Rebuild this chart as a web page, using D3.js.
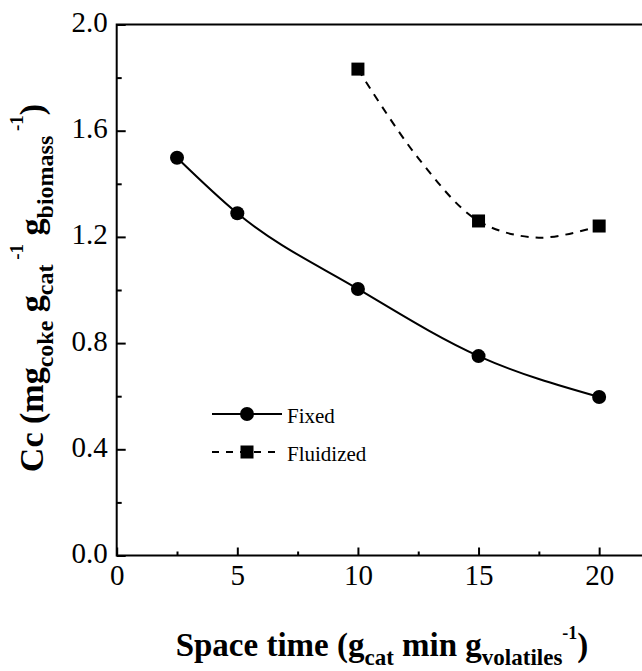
<!DOCTYPE html>
<html>
<head>
<meta charset="utf-8">
<title>Coke content vs space time</title>
<script src="https://d3js.org/d3.v7.min.js"></script>
<style>
  body { margin: 0; background: #fff; }
  svg { display: block; }
</style>
</head>
<body>
<svg width="642" height="671"></svg>
<script>
// data
var fixedX = [2.5, 5, 10, 15, 20];
var fixedY = [1.498, 1.289, 1.004, 0.751, 0.597];
var fluidX = [10, 15, 20];
var fluidY = [1.832, 1.26, 1.241];
// dashed fit curve for the fluidized bed
var fluidFitX = [10, 12.5, 15, 17.5, 20];
var fluidFitY = [1.832, 1.497, 1.26, 1.197, 1.241];
var xTicks = [0, 5, 10, 15, 20];
var xMinor = [2.5, 7.5, 12.5, 17.5];
var yTicks = [0, 0.4, 0.8, 1.2, 1.6, 2.0];
var yMinor = [0.2, 0.6, 1.0, 1.4, 1.8];

var serif = "'Liberation Serif', 'DejaVu Serif', serif";
var svg = d3.select("svg");

var x = d3.scaleLinear().domain([0, 22]).range([116.7, 647.4]);
var y = d3.scaleLinear().domain([0, 2]).range([555.5, 24.5]);

// frame (right side falls outside the picture)
svg.append("rect")
   .attr("x", x(0)).attr("y", y(2))
   .attr("width", x(22) - x(0)).attr("height", y(0) - y(2))
   .attr("fill", "none").attr("stroke", "#000").attr("stroke-width", 2);

function styleAxis(g) {
  g.select(".domain").remove();
  g.selectAll("line").attr("stroke", "#000").attr("stroke-width", 2);
  g.selectAll("text").attr("fill", "#000")
   .style("font-family", serif).style("font-size", "29px");
}

var gx = svg.append("g")
   .attr("transform", "translate(0," + y(0) + ")")
   .call(d3.axisBottom(x).tickValues(xTicks).tickSizeInner(-8).tickSizeOuter(0).tickPadding(9));
styleAxis(gx);
gx.selectAll("text").attr("dy", "0.72em");

var gxm = svg.append("g")
   .attr("transform", "translate(0," + y(0) + ")")
   .call(d3.axisBottom(x).tickValues(xMinor).tickSizeInner(-4).tickSizeOuter(0).tickFormat(""));
styleAxis(gxm);

var gy = svg.append("g")
   .attr("transform", "translate(" + x(0) + ",0)")
   .call(d3.axisLeft(y).tickValues(yTicks).tickSizeInner(-9).tickSizeOuter(0).tickPadding(9)
         .tickFormat(d3.format(".1f")));
styleAxis(gy);
gy.selectAll("text").attr("dy", "0.24em");

var gym = svg.append("g")
   .attr("transform", "translate(" + x(0) + ",0)")
   .call(d3.axisLeft(y).tickValues(yMinor).tickSizeInner(-5).tickSizeOuter(0).tickFormat(""));
styleAxis(gym);

// lines
var fixedPts = fixedX.map(function(d, i) { return [d, fixedY[i]]; });
var fluidPts = fluidX.map(function(d, i) { return [d, fluidY[i]]; });
var fluidFit = fluidFitX.map(function(d, i) { return [d, fluidFitY[i]]; });

var line = d3.line()
   .x(function(d) { return x(d[0]); })
   .y(function(d) { return y(d[1]); })
   .curve(d3.curveMonotoneX);

var fitLine = d3.line()
   .x(function(d) { return x(d[0]); })
   .y(function(d) { return y(d[1]); })
   .curve(d3.curveCatmullRom);

svg.append("path").datum(fixedPts)
   .attr("d", line).attr("fill", "none").attr("stroke", "#000").attr("stroke-width", 2);

svg.append("path").datum(fluidFit)
   .attr("d", fitLine).attr("fill", "none").attr("stroke", "#000").attr("stroke-width", 2)
   .attr("stroke-dasharray", "8,7");

svg.selectAll(".dot").data(fixedPts).enter().append("circle")
   .attr("class", "dot")
   .attr("cx", function(d) { return x(d[0]); })
   .attr("cy", function(d) { return y(d[1]); })
   .attr("r", 7).attr("fill", "#000");

svg.selectAll(".sq").data(fluidPts).enter().append("rect")
   .attr("class", "sq")
   .attr("x", function(d) { return x(d[0]) - 6.5; })
   .attr("y", function(d) { return y(d[1]) - 6.5; })
   .attr("width", 13).attr("height", 13).attr("fill", "#000");

// legend
var lg = svg.append("g");
lg.append("line").attr("x1", 212).attr("x2", 282).attr("y1", 414).attr("y2", 414)
  .attr("stroke", "#000").attr("stroke-width", 2);
lg.append("circle").attr("cx", 247).attr("cy", 414).attr("r", 7).attr("fill", "#000");
lg.append("text").attr("x", 287).attr("y", 423).text("Fixed");

lg.append("line").attr("x1", 212).attr("x2", 282).attr("y1", 452).attr("y2", 452)
  .attr("stroke", "#000").attr("stroke-width", 2).attr("stroke-dasharray", "7,7");
lg.append("rect").attr("x", 240.5).attr("y", 445.5).attr("width", 13).attr("height", 13).attr("fill", "#000");
lg.append("text").attr("x", 287).attr("y", 461).text("Fluidized");
lg.selectAll("text").style("font-family", serif).style("font-size", "21px").attr("fill", "#000");

// axis titles
var xt = svg.append("text")
   .attr("x", 382).attr("y", 656).attr("text-anchor", "middle")
   .style("font-family", serif).style("font-weight", "bold").style("font-size", "33px");
xt.append("tspan").text("Space time (g");
xt.append("tspan").attr("dy", 9).style("font-size", "23px").text("cat");
xt.append("tspan").attr("dy", -9).text(" min g");
xt.append("tspan").attr("dy", 9).style("font-size", "23px").text("volatiles");
xt.append("tspan").attr("dy", -26).style("font-size", "18px").text("-1");
xt.append("tspan").attr("dy", 17).text(")");

var yt = svg.append("text")
   .attr("transform", "translate(43,288) rotate(-90)")
   .attr("text-anchor", "middle")
   .style("font-family", serif).style("font-weight", "bold").style("font-size", "34px");
yt.append("tspan").text("Cc (mg");
yt.append("tspan").attr("dy", 10).style("font-size", "24px").text("coke");
yt.append("tspan").attr("dy", -10).text(" g");
yt.append("tspan").attr("dy", 10).style("font-size", "24px").text("cat");
yt.append("tspan").attr("dy", -30).style("font-size", "19px").text(" -1");
yt.append("tspan").attr("dy", 20).text(" g");
yt.append("tspan").attr("dy", 10).style("font-size", "24px").text("biomass");
yt.append("tspan").attr("dy", -30).style("font-size", "19px").text(" -1");
yt.append("tspan").attr("dy", 20).text(")");
</script>
</body>
</html>
